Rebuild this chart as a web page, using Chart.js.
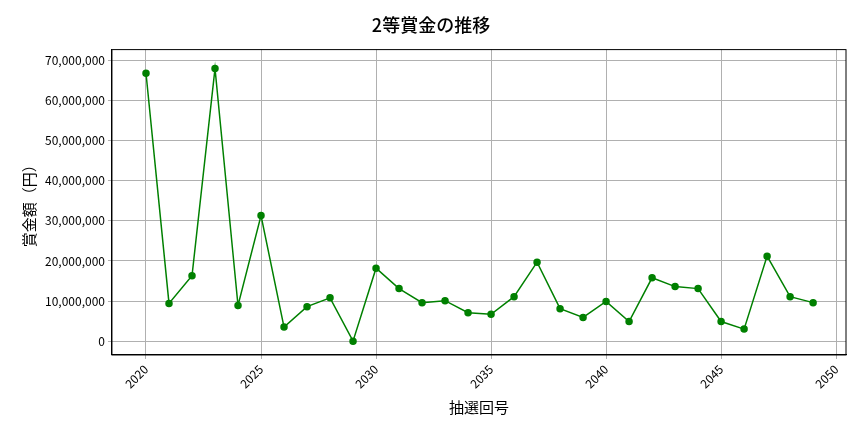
<!DOCTYPE html>
<html>
<head>
<meta charset="utf-8">
<script src="https://cdn.jsdelivr.net/npm/chart.js@4/dist/chart.umd.min.js"></script>
<style>
  html, body { margin: 0; padding: 0; background: #fff; }
  #wrap { width: 864px; height: 432px; }
</style>
</head>
<body>
<div id="wrap"><canvas id="chart" width="864" height="432"></canvas></div>
<script>
// 抽選回号 and 2等賞金 (円)
const rounds = [2020, 2021, 2022, 2023, 2024, 2025, 2026, 2027, 2028, 2029,
    2030, 2031, 2032, 2033, 2034, 2035, 2036, 2037, 2038, 2039,
    2040, 2041, 2042, 2043, 2044, 2045, 2046, 2047, 2048, 2049];
const prizes = [66800000, 9400000, 16300000, 68000000, 8900000, 31300000, 3500000, 8600000, 10800000, 0,
    18200000, 13100000, 9600000, 10100000, 7100000, 6700000, 11100000, 19700000, 8100000, 5900000,
    9900000, 4900000, 15800000, 13600000, 13100000, 4900000, 3000000, 21200000, 11100000, 9600000];

const font = "'Noto Sans CJK JP', 'Noto Sans', sans-serif";
const green = '#008000';

new Chart(document.getElementById('chart').getContext('2d'), {
    type: 'line',
    data: {
        datasets: [{
            data: rounds.map((r, i) => ({ x: r, y: prizes[i] })),
            borderColor: green,
            backgroundColor: green,
            borderWidth: 1.5,
            pointRadius: 3,
            tension: 0,
        }]
    },
    options: {
        responsive: false,
        animation: false,
        layout: { padding: { left: 16, right: 18, top: 12, bottom: 12 } },
        plugins: {
            legend: { display: false },
            title: {
                display: true,
                text: '2等賞金の推移',
                color: '#000',
                font: { family: font, size: 18, weight: '500' },
                padding: { top: 2, bottom: 14 }
            }
        },
        scales: {
            x: {
                type: 'linear',
                min: 2018.52, max: 2050.43,
                afterBuildTicks: (s) => { s.ticks = [2020, 2025, 2030, 2035, 2040, 2045, 2050].map(v => ({ value: v })); },
                ticks: { color: '#000', font: { family: font, size: 12 }, maxRotation: 45, minRotation: 45, callback: v => String(v) },
                grid: { color: '#b0b0b0', drawTicks: true, tickLength: 4 },
                border: { color: '#000' },
                title: { display: true, text: '抽選回号', color: '#000', font: { family: font, size: 15 } }
            },
            y: {
                min: -3450000, max: 72700000,
                afterBuildTicks: (s) => { s.ticks = [0, 1, 2, 3, 4, 5, 6, 7].map(v => ({ value: v * 10000000 })); },
                ticks: { color: '#000', font: { family: font, size: 12 }, callback: v => v.toLocaleString('en-US') },
                grid: { color: '#b0b0b0', tickLength: 4 },
                border: { color: '#000' },
                title: { display: true, text: '賞金額（円）', color: '#000', font: { family: font, size: 15 } }
            }
        }
    },
    plugins: [{
        id: 'frame',
        afterDraw(c) {
            const a = c.chartArea, g = c.ctx;
            g.save();
            g.strokeStyle = '#000';
            g.lineWidth = 1;
            g.strokeRect(a.left, a.top, a.right - a.left, a.bottom - a.top);
            g.restore();
        }
    }]
});
</script>
</body>
</html>
